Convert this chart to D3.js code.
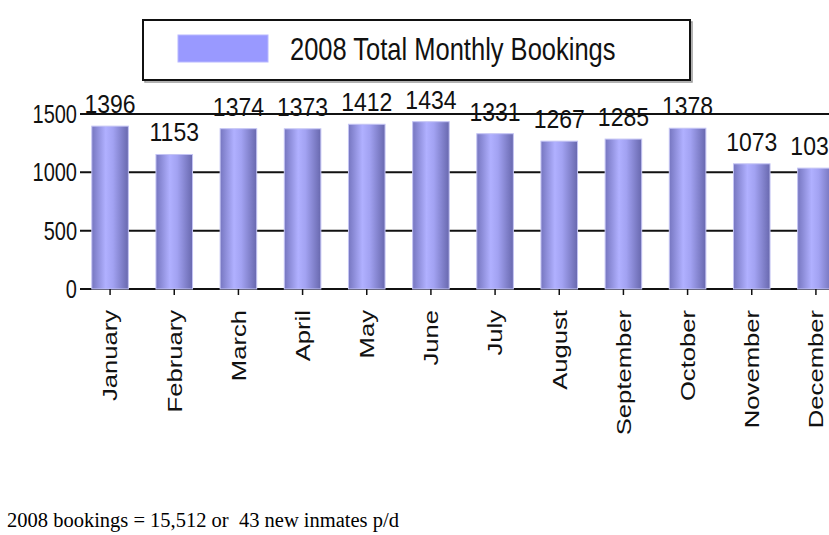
<!DOCTYPE html>
<html>
<head>
  <title>2008 Total Monthly Bookings</title>
  <script src="https://d3js.org/d3.v7.min.js"></script>
  <style>
    body { margin: 0; background: #fff; }
    svg { display: block; }
    .lbl { font-family: "Liberation Sans", Arial, sans-serif; fill: #111; }
    .note { font-family: "Liberation Serif", "Times New Roman", serif; font-size: 20.5px; fill: #000; }
    .grid line { stroke: #111; stroke-width: 2px; }
  </style>
</head>
<body>
  <script>
    var width = 829,
        height = 535;

    // data
    var months = ["January", "February", "March", "April", "May", "June",
                  "July", "August", "September", "October", "November", "December"];
    var bookings = [1396, 1153, 1374, 1373, 1412, 1434, 1331, 1267, 1285, 1378, 1073, 1036];
    var yTicks = [0, 500, 1000, 1500];
    var seriesName = "2008 Total Monthly Bookings";
    var note = "2008 bookings = 15,512 or \u00a043 new inmates p/d";

    // the original image is stretched vertically, so text is too
    var sy = 1.25;

    var svg = d3.select("body").append("svg")
        .attr("width", width)
        .attr("height", height);

    var defs = svg.append("defs");
    var grad = defs.append("linearGradient")
        .attr("id", "barGrad")
        .attr("x1", "0%").attr("x2", "100%")
        .attr("y1", "0%").attr("y2", "0%");
    grad.append("stop").attr("offset", "0%").attr("stop-color", "#7676c0");
    grad.append("stop").attr("offset", "38%").attr("stop-color", "#b0b0ff");
    grad.append("stop").attr("offset", "58%").attr("stop-color", "#a2a2f2");
    grad.append("stop").attr("offset", "100%").attr("stop-color", "#6868ae");

    var x = d3.scaleBand()
        .domain(months)
        .range([78, 848])
        .paddingInner(0.43)
        .paddingOuter(0.215);

    var y = d3.scaleLinear()
        .domain([0, 1500])
        .range([289, 114]);

    // gridlines
    svg.append("g")
        .attr("class", "grid")
        .selectAll("line")
        .data(yTicks)
        .enter().append("line")
        .attr("x1", 80)
        .attr("x2", width)
        .attr("y1", function(d) { return y(d); })
        .attr("y2", function(d) { return y(d); });

    // y labels
    svg.append("g")
        .selectAll("text")
        .data(yTicks)
        .enter().append("text")
        .attr("class", "lbl")
        .attr("transform", function(d) { return "translate(77," + y(d) + ") scale(1," + sy + ")"; })
        .attr("text-anchor", "end")
        .attr("dy", "0.36em")
        .style("font-size", "20px")
        .text(function(d) { return d; });

    // bars
    svg.append("g")
        .selectAll("rect")
        .data(bookings)
        .enter().append("rect")
        .attr("x", function(d, i) { return x(months[i]); })
        .attr("y", function(d) { return y(d); })
        .attr("width", x.bandwidth())
        .attr("height", function(d) { return y(0) - y(d); })
        .attr("fill", "url(#barGrad)")
        .attr("stroke", "#c4c4f4")
        .attr("stroke-width", 1);

    // x ticks
    svg.append("g")
        .selectAll("line")
        .data(months)
        .enter().append("line")
        .attr("x1", function(d) { return x(d) + x.bandwidth() / 2; })
        .attr("x2", function(d) { return x(d) + x.bandwidth() / 2; })
        .attr("y1", y(0))
        .attr("y2", y(0) + 6)
        .attr("stroke", "#111")
        .attr("stroke-width", 1.5);

    // month labels
    svg.append("g")
        .selectAll("text")
        .data(months)
        .enter().append("text")
        .attr("class", "lbl")
        .attr("transform", function(d) {
          return "translate(" + (x(d) + x.bandwidth() / 2) + ",310) scale(1," + sy + ") rotate(-90)";
        })
        .attr("text-anchor", "end")
        .attr("dy", "0.36em")
        .style("font-size", "20.5px")
        .text(function(d) { return d; });

    // value labels (December runs off the right edge, as in the original)
    svg.append("g")
        .selectAll("text")
        .data(bookings)
        .enter().append("text")
        .attr("class", "lbl")
        .attr("transform", function(d, i) {
          return "translate(" + (x(months[i]) + x.bandwidth() / 2) + "," + (y(d) - 13) + ") scale(1," + (sy - 0.1) + ")";
        })
        .attr("text-anchor", "middle")
        .style("font-size", "23px")
        .text(function(d) { return d; });

    // legend
    var legend = svg.append("g");
    legend.append("rect")
        .attr("x", 145).attr("y", 22)
        .attr("width", 547).attr("height", 60)
        .attr("fill", "none")
        .attr("stroke", "#999")
        .attr("stroke-width", 1.5);
    legend.append("rect")
        .attr("x", 143).attr("y", 20)
        .attr("width", 547).attr("height", 60)
        .attr("fill", "#fff")
        .attr("stroke", "#111")
        .attr("stroke-width", 2);
    legend.append("rect")
        .attr("x", 178).attr("y", 35)
        .attr("width", 90).attr("height", 27)
        .attr("fill", "#9999ff")
        .attr("stroke", "#b8b8ff");
    legend.append("text")
        .attr("class", "lbl")
        .attr("transform", "translate(290,60) scale(1,1.22)")
        .style("font-size", "25.5px")
        .text(seriesName);

    // note below the chart
    svg.append("text")
        .attr("class", "note")
        .attr("x", 7)
        .attr("y", 527)
        .text(note);
  </script>
</body>
</html>
